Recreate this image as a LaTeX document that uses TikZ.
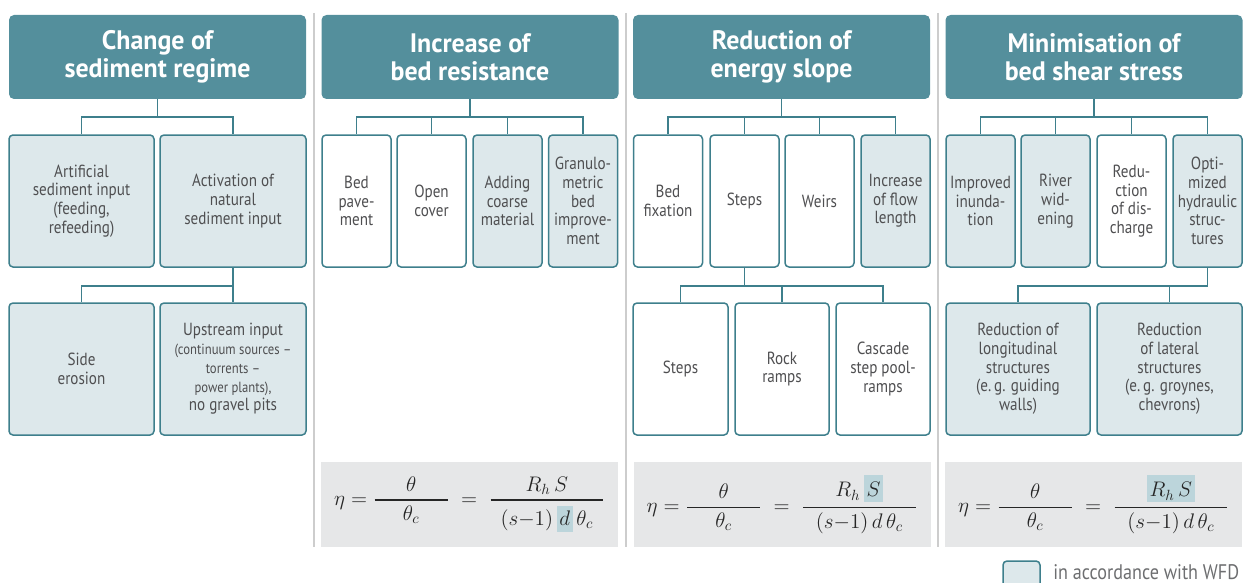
\RequirePackage{fix-cm}
\documentclass[tikz,border=0pt]{standalone}
\usepackage[no-math]{fontspec}
\setmainfont{PT Sans}[FakeStretch=0.86]
\newfontfamily\headfont{PT Sans}[FakeStretch=0.97]
\usepackage{amsmath}

\definecolor{headteal}{HTML}{548F9C}
\definecolor{lineteal}{HTML}{3E7F8C}
\definecolor{wfd}{HTML}{DDE8EB}
\definecolor{wfdhl}{HTML}{BCD5DB}
\definecolor{formgray}{HTML}{E6E7E8}
\definecolor{sepgray}{HTML}{CDCDCD}
\definecolor{bodytext}{HTML}{4F4F51}
\definecolor{legtext}{HTML}{6D6E70}

\newlength{\px}\setlength{\px}{0.25mm}
\newcommand{\bodyfont}{\fontsize{12.5}{13.3}\selectfont}
\newcommand{\smallfont}{\fontsize{10.5}{11.7}\selectfont}
\newcommand{\wfdmark}[3]{{\setlength{\fboxsep}{0pt}\colorbox{wfdhl}{\rule[-#1]{0pt}{#2}\kern2pt$#3$\kern2pt}}}
\newcommand{\barfrac}[2]{\genfrac{}{}{1.1pt}{0}{#1}{#2}}

\begin{document}
\begin{tikzpicture}[x=0.25mm, y=-0.25mm]
\tikzset{HeadStyle/.style = {fill=headteal, rounded corners=5\px, minimum width=297\px, minimum height=84\px, inner sep=0pt, align=center, text=white, font=\headfont\fontsize{19}{20}\selectfont\bfseries},
BoxStyle/.style = {draw=lineteal, line width=1.5\px, fill=white, rounded corners=4\px, minimum height=132\px, inner sep=0pt, align=center, text=bodytext, font=\bodyfont},
WfdStyle/.style = {BoxStyle, fill=wfd},
LinkStyle/.style = {draw=lineteal, line width=1.6\px},
FormStyle/.style = {fill=formgray, minimum width=297\px, minimum height=85\px, inner sep=0pt, text=black!85, font=\fontsize{15}{17}\selectfont},
SepStyle/.style = {draw=sepgray, line width=2\px}
}
    \useasboundingbox (0,0) rectangle (1248,583);

    % Column rules
    \draw[SepStyle] (314,13) -- (314,547);
    \draw[SepStyle] (626,13) -- (626,547);
    \draw[SepStyle] (938,13) -- (938,547);

    % Headers
   \node[HeadStyle] (head1) at (157.5,57) {Change of\\sediment regime};
   \node[HeadStyle] (head2) at (470,57)   {Increase of\\bed resistance};
   \node[HeadStyle] (head3) at (781.5,57) {Reduction of\\energy slope};
   \node[HeadStyle] (head4) at (1094,57)  {Minimisation of\\bed shear stress};

    % Sediment regime
   \node[WfdStyle, minimum width=145\px] (rect11) at (81.5,201) {Artificial\\sediment input\\(feeding,\\refeeding)};
   \node[WfdStyle, minimum width=146\px] (rect12) at (233,201)  {Activation of\\natural\\sediment input};
   \node[WfdStyle, minimum width=145\px] (rect13) at (81.5,369) {Side\\erosion};
   \node[WfdStyle, minimum width=146\px] (rect14) at (233,369)  {Upstream input\\\smallfont(continuum sources –\\\smallfont torrents –\\\smallfont power plants),\\\bodyfont no gravel pits};

   \draw[LinkStyle] (head1.south) -- ++(0,18) -| (rect11.north);
   \draw[LinkStyle] (head1.south) -- ++(0,18) -| (rect12.north);
   \draw[LinkStyle] (rect12.south) -- ++(0,18) -| (rect13.north);
   \draw[LinkStyle] (rect12.south) -- (rect14.north);

    % Bed resistance
   \node[BoxStyle, minimum width=69\px] (rect21) at (356.5,201) {Bed\\pave-\\ment};
   \node[BoxStyle, minimum width=69\px] (rect22) at (431.5,201) {Open\\cover};
   \node[WfdStyle, minimum width=69\px] (rect23) at (507.5,201) {Adding\\coarse\\material};
   \node[WfdStyle, minimum width=69\px] (rect24) at (583,201)   {Granulo-\\metric\\bed\\improve-\\ment};

   \draw[LinkStyle] (head2.south) -- ++(0,18) -| (rect21.north);
   \draw[LinkStyle] (head2.south) -- ++(0,18) -| (rect22.north);
   \draw[LinkStyle] (head2.south) -- ++(0,18) -| (rect23.north);
   \draw[LinkStyle] (head2.south) -- ++(0,18) -| (rect24.north);

    % Energy slope
   \node[BoxStyle, minimum width=69\px] (rect31) at (668,201)   {Bed\\fixation};
   \node[BoxStyle, minimum width=69\px] (rect32) at (744.5,201) {Steps};
   \node[BoxStyle, minimum width=69\px] (rect33) at (819.5,201) {Weirs};
   \node[WfdStyle, minimum width=69\px] (rect34) at (895.5,201) {Increase\\of flow\\length};
   \node[BoxStyle, minimum width=95\px] (rect35) at (680.5,369) {Steps};
   \node[BoxStyle, minimum width=94\px] (rect36) at (782,369)   {Rock\\ramps};
   \node[BoxStyle, minimum width=94\px] (rect37) at (883,369)   {Cascade\\step pool-\\ramps};

   \draw[LinkStyle] (head3.south) -- ++(0,18) -| (rect31.north);
   \draw[LinkStyle] (head3.south) -- ++(0,18) -| (rect32.north);
   \draw[LinkStyle] (head3.south) -- ++(0,18) -| (rect33.north);
   \draw[LinkStyle] (head3.south) -- ++(0,18) -| (rect34.north);
   \draw[LinkStyle] (rect32.south) -- ++(0,18) -| (rect35.north);
   \draw[LinkStyle] (rect32.south) -- ++(0,18) -| (rect36.north);
   \draw[LinkStyle] (rect32.south) -- ++(0,18) -| (rect37.north);

    % Bed shear stress
   \node[WfdStyle, minimum width=69\px] (rect41) at (980.5,201)  {Improved\\inunda-\\tion};
   \node[WfdStyle, minimum width=69\px] (rect42) at (1055.5,201) {River\\wid-\\ening};
   \node[BoxStyle, minimum width=69\px] (rect43) at (1131.5,201) {Redu-\\ction\\of dis-\\charge};
   \node[WfdStyle, minimum width=69\px] (rect44) at (1207.5,201) {Opti-\\mized\\hydraulic\\struc-\\tures};
   \node[WfdStyle, minimum width=144\px] (rect45) at (1018,369)  {Reduction of\\longitudinal\\structures\\(e.\,g. guiding\\walls)};
   \node[WfdStyle, minimum width=145\px] (rect46) at (1169.5,369) {Reduction\\of lateral\\structures\\(e.\,g. groynes,\\chevrons)};

   \draw[LinkStyle] (head4.south) -- ++(0,18) -| (rect41.north);
   \draw[LinkStyle] (head4.south) -- ++(0,18) -| (rect42.north);
   \draw[LinkStyle] (head4.south) -- ++(0,18) -| (rect43.north);
   \draw[LinkStyle] (head4.south) -- ++(0,18) -| (rect44.north);
   \draw[LinkStyle] (rect44.south) -- ++(0,18) -| (rect45.north);
   \draw[LinkStyle] (rect44.south) -- ++(0,18) -| (rect46.north);

    % Formulas
   \node[FormStyle] (form2) at (469.5,504.5) {$\displaystyle \eta = \barfrac{\makebox[52pt]{$\theta$}}{\theta_c} \;=\; \barfrac{\makebox[80pt]{$R_h\,S$}}{(s{-}1)\,\wfdmark{5pt}{19pt}{d}\,\theta_c}$};
   \node[FormStyle] (form3) at (782,504.5)   {$\displaystyle \eta = \barfrac{\makebox[52pt]{$\theta$}}{\theta_c} \;=\; \barfrac{\makebox[80pt]{$R_h\,\wfdmark{3.5pt}{19pt}{S}$}}{(s{-}1)\,d\,\theta_c}$};
   \node[FormStyle] (form4) at (1093.5,504.5) {$\displaystyle \eta = \barfrac{\makebox[52pt]{$\theta$}}{\theta_c} \;=\; \barfrac{\makebox[80pt]{\wfdmark{3.5pt}{19pt}{R_h\,S}}}{(s{-}1)\,d\,\theta_c}$};

    % Legend
   \node[WfdStyle, minimum width=37\px, minimum height=36\px] (legbox) at (1021.5,579) {};
   \node[anchor=base west, text=legtext, font=\fontsize{15}{17}\selectfont, inner sep=0pt] (legtext) at (1053,579) {in accordance with WFD};
\end{tikzpicture}
\end{document}
